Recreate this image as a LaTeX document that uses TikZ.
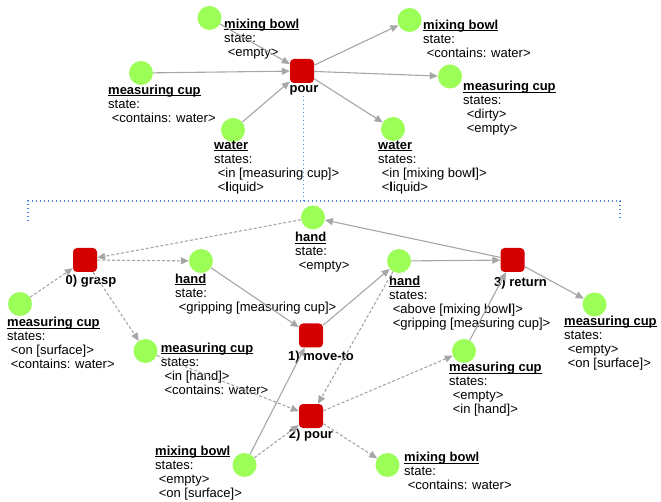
\documentclass[tikz,border=0pt]{standalone}
\usepackage{fontspec}
\setmainfont{Liberation Sans}
\usetikzlibrary{arrows.meta}
\definecolor{objgreen}{HTML}{9CFF57}
\definecolor{actred}{HTML}{D40000}
\definecolor{edgegray}{HTML}{A6A6A6}
\definecolor{dotblue}{HTML}{4A86E8}
\newcommand\ttl[1]{\setbox0\hbox{\textbf{#1}}\rlap{\rule[-1.6pt]{\wd0}{0.9pt}}\box0}
\newcommand\ind{\hspace*{3.6pt}}
\begin{document}
\begin{tikzpicture}[x=1pt,y=-1pt,
 obj/.style={circle, fill=objgreen, minimum size=24pt, inner sep=0pt},
 act/.style={rectangle, rounded corners=4pt, fill=actred, minimum size=24pt, inner sep=0pt},
 lbl/.style={anchor=north west, align=left, inner sep=0pt, font=\fontsize{13}{14}\selectfont},
 albl/.style={anchor=base, inner sep=0pt, font=\fontsize{13}{14}\selectfont\bfseries},
 arr/.style={draw=edgegray, line width=1.1pt, -{Triangle[length=8pt,width=7pt]}},
 darr/.style={arr, dash pattern=on 3pt off 2pt},
 brace/.style={draw=dotblue, line width=1.4pt, dash pattern=on 1.4pt off 2.6pt}]
\useasboundingbox (0,0) rectangle (661,502);

% ---------- top part ----------
\node[obj] (mb1) at (209.5,18) {};
\node[obj] (mc1) at (141,73) {};
\node[obj] (w1) at (233,130) {};
\node[obj] (mb2) at (409.5,20) {};
\node[obj] (mc2) at (450,76.5) {};
\node[obj] (w2) at (393,129) {};
\node[act] (pour1) at (302,71) {};

\node[lbl] (mb1l) at (224,18.7) {\strut\ttl{mixing bowl}\\ state:\\ \ind<empty>};
\node[lbl] (mc1l) at (108,84.5) {\strut\ttl{measuring cup}\\ state:\\ \ind<contains: water>};
\node[lbl] (w1l) at (214,139.2) {\strut\ttl{water}\\ states:\\ \ind<in [measuring cup]>\\ \ind<\textbf{l}iquid>};
\node[lbl] (mb2l) at (423,19.2) {\strut\ttl{mixing bowl}\\ state:\\ \ind<contains: water>};
\node[lbl] (mc2l) at (463,80.9) {\strut\ttl{measuring cup}\\ states:\\ \ind<dirty>\\ \ind<empty>};
\node[lbl] (w2l) at (378,139.5) {\strut\ttl{water}\\ states:\\ \ind<in [mixing bow\textbf{l}]>\\ \ind<\textbf{l}iquid>};
\node[albl] (pour1l) at (304,92.5) {pour};

% ---------- bottom part ----------
\node[obj] (h1) at (313,217.5) {};
\node[obj] (mcA) at (20,304) {};
\node[obj] (h2) at (201,261) {};
\node[obj] (mcB) at (145.5,351) {};
\node[obj] (h3) at (399,261) {};
\node[obj] (mcD) at (594.5,304.5) {};
\node[obj] (mcC) at (464,351) {};
\node[obj] (mbA) at (244.5,465) {};
\node[obj] (mbB) at (387.5,465) {};
\node[act] (grasp) at (85,260) {};
\node[act] (move) at (311,335.5) {};
\node[act] (ret) at (512.5,260) {};
\node[act] (pour2) at (311,416) {};

\node[lbl] (h1l) at (295,231.9) {\strut\ttl{hand}\\ state:\\ \ind<empty>};
\node[lbl] (mcAl) at (7,316.9) {\strut\ttl{measuring cup}\\ states:\\ \ind<on [surface]>\\ \ind<contains: water>};
\node[lbl] (h2l) at (175,273.2) {\strut\ttl{hand}\\ state:\\ \ind<gripping [measuring cup]>};
\node[lbl] (mcBl) at (160.7,342.2) {\strut\ttl{measuring cup}\\ states:\\ \ind<in [hand]>\\ \ind<contains: water>};
\node[lbl] (h3l) at (389,275.2) {\strut\ttl{hand}\\ states:\\ \ind<above [mixing bow\textbf{l}]>\\ \ind<gripping [measuring cup]>};
\node[lbl] (mcDl) at (564,315.2) {\strut\ttl{measuring cup}\\ states:\\ \ind<empty>\\ \ind<on [surface]>};
\node[lbl] (mcCl) at (449,361.9) {\strut\ttl{measuring cup}\\ states:\\ \ind<empty>\\ \ind<in [hand]>};
\node[lbl] (mbAl) at (155,445.2) {\strut\ttl{mixing bowl}\\ states:\\ \ind<empty>\\ \ind<on [surface]>};
\node[lbl] (mbBl) at (404,451.9) {\strut\ttl{mixing bowl}\\ state:\\ \ind<contains: water>};
\node[albl] (graspl) at (91,285) {0) grasp};
\node[albl] (movel) at (321,360) {1) move-to};
\node[albl] (retl) at (520.5,286.5) {3) return};
\node[albl] (pour2l) at (311,438) {2) pour};

% ---------- dotted bracket ----------
\draw[brace] (303.5,96) -- (303.5,201);
\draw[brace] (28,221) -- (28,201) -- (620,201) -- (620,218);

% ---------- top edges ----------
\draw[arr] (mb1) -- (pour1);
\draw[arr] (mc1) -- (pour1);
\draw[arr] (w1) -- (pour1);
\draw[arr] (pour1) -- (mb2);
\draw[arr] (pour1) -- (mc2);
\draw[arr] (pour1) -- (w2);

% ---------- bottom edges ----------
\draw[darr] (h1) -- (grasp);
\draw[darr] (grasp) -- (h2);
\draw[darr] (mcA) -- (grasp);
\draw[darr] (grasp) -- (mcB);
\draw[arr] (h2) -- (move);
\draw[arr] (move) -- (h3);
\draw[arr] (mbA) -- (move);
\draw[darr] (mbA) -- (pour2);
\draw[darr] (mcB) -- (pour2);
\draw[darr] (h3) -- (pour2);
\draw[darr] (pour2) -- (mcC);
\draw[darr] (pour2) -- (mbB);
\draw[arr] (h3) -- (ret);
\draw[arr] (mcC) -- (ret);
\draw[arr] (ret) -- (h1);
\draw[arr] (ret) -- (mcD);
\end{tikzpicture}
\end{document}
